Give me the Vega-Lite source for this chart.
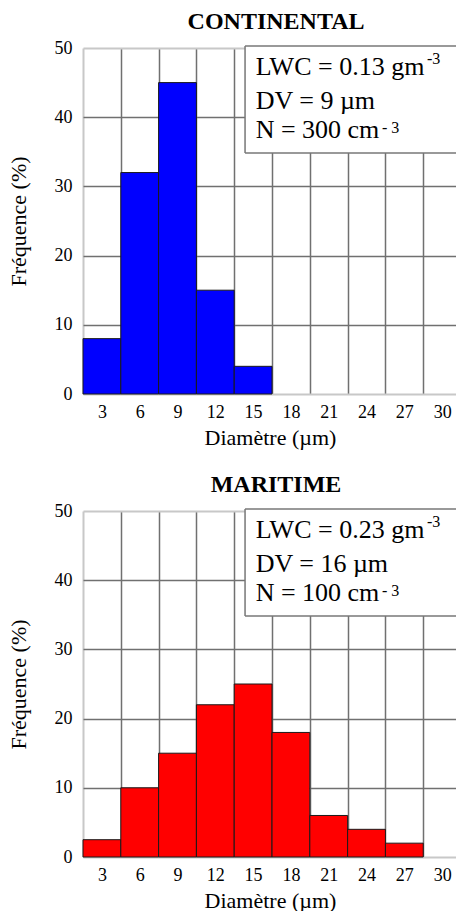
{
  "$schema": "https://vega.github.io/schema/vega-lite/v6.json",
  "padding": {"left": 7, "top": 9, "right": 0, "bottom": 0},
  "background": "white",
  "spacing": 24,
  "config": {
    "view": {"stroke": null},
    "font": "Liberation Serif",
    "axis": {
      "labelFont": "Liberation Serif",
      "titleFont": "Liberation Serif",
      "labelColor": "black",
      "titleColor": "black",
      "titleFontWeight": "normal",
      "labelFontSize": 18,
      "titleFontSize": 22,
      "ticks": false,
      "domain": false
    }
  },
  "datasets": {
    "continental": [
      {"d": 3, "lo": 1.5, "hi": 4.5, "f": 8},
      {"d": 6, "lo": 4.5, "hi": 7.5, "f": 32},
      {"d": 9, "lo": 7.5, "hi": 10.5, "f": 45},
      {"d": 12, "lo": 10.5, "hi": 13.5, "f": 15},
      {"d": 15, "lo": 13.5, "hi": 16.5, "f": 4},
      {"d": 18, "lo": 16.5, "hi": 19.5, "f": 0},
      {"d": 21, "lo": 19.5, "hi": 22.5, "f": 0},
      {"d": 24, "lo": 22.5, "hi": 25.5, "f": 0},
      {"d": 27, "lo": 25.5, "hi": 28.5, "f": 0},
      {"d": 30, "lo": 28.5, "hi": 31.5, "f": 0}
    ],
    "maritime": [
      {"d": 3, "lo": 1.5, "hi": 4.5, "f": 2.5},
      {"d": 6, "lo": 4.5, "hi": 7.5, "f": 10},
      {"d": 9, "lo": 7.5, "hi": 10.5, "f": 15},
      {"d": 12, "lo": 10.5, "hi": 13.5, "f": 22},
      {"d": 15, "lo": 13.5, "hi": 16.5, "f": 25},
      {"d": 18, "lo": 16.5, "hi": 19.5, "f": 18},
      {"d": 21, "lo": 19.5, "hi": 22.5, "f": 6},
      {"d": 24, "lo": 22.5, "hi": 25.5, "f": 4},
      {"d": 27, "lo": 25.5, "hi": 28.5, "f": 2},
      {"d": 30, "lo": 28.5, "hi": 31.5, "f": 0}
    ],
    "note": [{}]
  },
  "vconcat": [
    {
      "width": 374,
      "height": 346,
      "title": {"text": "CONTINENTAL", "font": "Liberation Serif", "fontSize": 24, "fontWeight": "bold", "offset": 5.5, "dx": 6, "color": "black"},
      "resolve": {"axis": {"x": "independent"}},
      "layer": [
        {
          "data": {"name": "continental"},
          "transform": [{"filter": "datum.f > 0"}],
          "mark": {"type": "bar", "color": "#0000ff", "stroke": "#1a1a1a", "strokeWidth": 1},
          "encoding": {
            "x": {"field": "lo", "type": "quantitative", "scale": {"domain": [1.5, 31.18], "nice": false, "zero": false},
                  "axis": {"orient": "bottom", "values": [3, 6, 9, 12, 15, 18, 21, 24, 27, 30], "grid": false, "labelPadding": 9, "titlePadding": 6, "title": "Diamètre (µm)", "labelFlush": false}},
            "x2": {"field": "hi"},
            "y": {"field": "f", "type": "quantitative", "scale": {"domain": [0, 50], "nice": false},
                  "axis": {"orient": "left", "values": [0, 10, 20, 30, 40, 50], "grid": true, "labelPadding": 11, "titlePadding": 24, "title": "Fréquence (%)",
                           "gridColor": {"condition": {"test": "datum.value == 0 || datum.value == 50", "value": "#c8c8c8"}, "value": "#707070"},
                           "gridWidth": {"condition": {"test": "datum.value == 0 || datum.value == 50", "value": 2}, "value": 1.5}}},
            "y2": {"datum": 0}
          }
        },
        {
          "data": {"name": "note"},
          "mark": {"type": "rect", "fill": "white"},
          "encoding": {
            "x": {"datum": 14.36, "type": "quantitative",
                  "axis": {"orient": "bottom", "values": [1.5, 4.5, 7.5, 10.5, 13.5, 16.5, 19.5, 22.5, 25.5, 28.5], "grid": true, "labels": false, "title": null,
                           "gridColor": {"condition": {"test": "datum.value == 1.5", "value": "#c8c8c8"}, "value": "#707070"},
                           "gridWidth": {"condition": {"test": "datum.value == 1.5", "value": 2}, "value": 1.5}}},
            "x2": {"datum": 31.18},
            "y": {"datum": 34.83, "type": "quantitative"},
            "y2": {"datum": 50.29}
          }
        },
        {
          "data": {"name": "note"},
          "mark": {"type": "rule", "color": "#777777", "strokeWidth": 1.5},
          "encoding": {
            "x": {"datum": 14.36, "type": "quantitative", "axis": null},
            "x2": {"datum": 31.18},
            "y": {"datum": 50.29, "type": "quantitative"}
          }
        },
        {
          "data": {"name": "note"},
          "mark": {"type": "rule", "color": "#777777", "strokeWidth": 1.5},
          "encoding": {
            "x": {"datum": 14.36, "type": "quantitative", "axis": null},
            "x2": {"datum": 31.18},
            "y": {"datum": 34.83, "type": "quantitative"}
          }
        },
        {
          "data": {"name": "note"},
          "mark": {"type": "rule", "color": "#777777", "strokeWidth": 1.5},
          "encoding": {
            "x": {"datum": 14.36, "type": "quantitative", "axis": null},
            "y": {"datum": 34.83, "type": "quantitative"},
            "y2": {"datum": 50.29}
          }
        },
        {
          "data": {"name": "note"},
          "mark": {"type": "text", "text": "LWC = 0.13 gm", "font": "Liberation Serif", "fontSize": 26, "align": "left", "baseline": "alphabetic", "color": "black"},
          "encoding": {"x": {"datum": 15.2, "type": "quantitative", "axis": null}, "y": {"datum": 46.05, "type": "quantitative"}}
        },
        {
          "data": {"name": "note"},
          "mark": {"type": "text", "text": "DV = 9 µm", "font": "Liberation Serif", "fontSize": 26, "align": "left", "baseline": "alphabetic", "color": "black"},
          "encoding": {"x": {"datum": 15.2, "type": "quantitative", "axis": null}, "y": {"datum": 41.14, "type": "quantitative"}}
        },
        {
          "data": {"name": "note"},
          "mark": {"type": "text", "text": "N = 300 cm", "font": "Liberation Serif", "fontSize": 26, "align": "left", "baseline": "alphabetic", "color": "black"},
          "encoding": {"x": {"datum": 15.2, "type": "quantitative", "axis": null}, "y": {"datum": 37.04, "type": "quantitative"}}
        },
        {
          "data": {"name": "note"},
          "mark": {"type": "text", "text": "-3", "font": "Liberation Serif", "fontSize": 16, "align": "left", "baseline": "alphabetic", "color": "black"},
          "encoding": {"x": {"datum": 28.8, "type": "quantitative", "axis": null}, "y": {"datum": 47.69, "type": "quantitative"}}
        },
        {
          "data": {"name": "note"},
          "mark": {"type": "text", "text": "- 3", "font": "Liberation Serif", "fontSize": 16, "align": "left", "baseline": "alphabetic", "color": "black"},
          "encoding": {"x": {"datum": 25.23, "type": "quantitative", "axis": null}, "y": {"datum": 37.76, "type": "quantitative"}}
        }
      ]
    },
    {
      "width": 374,
      "height": 346,
      "title": {"text": "MARITIME", "font": "Liberation Serif", "fontSize": 24, "fontWeight": "bold", "offset": 5.5, "dx": 6, "color": "black"},
      "resolve": {"axis": {"x": "independent"}},
      "layer": [
        {
          "data": {"name": "maritime"},
          "transform": [{"filter": "datum.f > 0"}],
          "mark": {"type": "bar", "color": "#ff0000", "stroke": "#1a1a1a", "strokeWidth": 1},
          "encoding": {
            "x": {"field": "lo", "type": "quantitative", "scale": {"domain": [1.5, 31.18], "nice": false, "zero": false},
                  "axis": {"orient": "bottom", "values": [3, 6, 9, 12, 15, 18, 21, 24, 27, 30], "grid": false, "labelPadding": 9, "titlePadding": 6, "title": "Diamètre (µm)", "labelFlush": false}},
            "x2": {"field": "hi"},
            "y": {"field": "f", "type": "quantitative", "scale": {"domain": [0, 50], "nice": false},
                  "axis": {"orient": "left", "values": [0, 10, 20, 30, 40, 50], "grid": true, "labelPadding": 11, "titlePadding": 24, "title": "Fréquence (%)",
                           "gridColor": {"condition": {"test": "datum.value == 0 || datum.value == 50", "value": "#c8c8c8"}, "value": "#707070"},
                           "gridWidth": {"condition": {"test": "datum.value == 0 || datum.value == 50", "value": 2}, "value": 1.5}}},
            "y2": {"datum": 0}
          }
        },
        {
          "data": {"name": "note"},
          "mark": {"type": "rect", "fill": "white"},
          "encoding": {
            "x": {"datum": 14.36, "type": "quantitative",
                  "axis": {"orient": "bottom", "values": [1.5, 4.5, 7.5, 10.5, 13.5, 16.5, 19.5, 22.5, 25.5, 28.5], "grid": true, "labels": false, "title": null,
                           "gridColor": {"condition": {"test": "datum.value == 1.5", "value": "#c8c8c8"}, "value": "#707070"},
                           "gridWidth": {"condition": {"test": "datum.value == 1.5", "value": 2}, "value": 1.5}}},
            "x2": {"datum": 31.18},
            "y": {"datum": 34.83, "type": "quantitative"},
            "y2": {"datum": 50.29}
          }
        },
        {
          "data": {"name": "note"},
          "mark": {"type": "rule", "color": "#777777", "strokeWidth": 1.5},
          "encoding": {
            "x": {"datum": 14.36, "type": "quantitative", "axis": null},
            "x2": {"datum": 31.18},
            "y": {"datum": 50.29, "type": "quantitative"}
          }
        },
        {
          "data": {"name": "note"},
          "mark": {"type": "rule", "color": "#777777", "strokeWidth": 1.5},
          "encoding": {
            "x": {"datum": 14.36, "type": "quantitative", "axis": null},
            "x2": {"datum": 31.18},
            "y": {"datum": 34.83, "type": "quantitative"}
          }
        },
        {
          "data": {"name": "note"},
          "mark": {"type": "rule", "color": "#777777", "strokeWidth": 1.5},
          "encoding": {
            "x": {"datum": 14.36, "type": "quantitative", "axis": null},
            "y": {"datum": 34.83, "type": "quantitative"},
            "y2": {"datum": 50.29}
          }
        },
        {
          "data": {"name": "note"},
          "mark": {"type": "text", "text": "LWC = 0.23 gm", "font": "Liberation Serif", "fontSize": 26, "align": "left", "baseline": "alphabetic", "color": "black"},
          "encoding": {"x": {"datum": 15.2, "type": "quantitative", "axis": null}, "y": {"datum": 46.05, "type": "quantitative"}}
        },
        {
          "data": {"name": "note"},
          "mark": {"type": "text", "text": "DV = 16 µm", "font": "Liberation Serif", "fontSize": 26, "align": "left", "baseline": "alphabetic", "color": "black"},
          "encoding": {"x": {"datum": 15.2, "type": "quantitative", "axis": null}, "y": {"datum": 41.14, "type": "quantitative"}}
        },
        {
          "data": {"name": "note"},
          "mark": {"type": "text", "text": "N = 100 cm", "font": "Liberation Serif", "fontSize": 26, "align": "left", "baseline": "alphabetic", "color": "black"},
          "encoding": {"x": {"datum": 15.2, "type": "quantitative", "axis": null}, "y": {"datum": 37.04, "type": "quantitative"}}
        },
        {
          "data": {"name": "note"},
          "mark": {"type": "text", "text": "-3", "font": "Liberation Serif", "fontSize": 16, "align": "left", "baseline": "alphabetic", "color": "black"},
          "encoding": {"x": {"datum": 28.8, "type": "quantitative", "axis": null}, "y": {"datum": 47.69, "type": "quantitative"}}
        },
        {
          "data": {"name": "note"},
          "mark": {"type": "text", "text": "- 3", "font": "Liberation Serif", "fontSize": 16, "align": "left", "baseline": "alphabetic", "color": "black"},
          "encoding": {"x": {"datum": 25.23, "type": "quantitative", "axis": null}, "y": {"datum": 37.76, "type": "quantitative"}}
        }
      ]
    }
  ]
}
